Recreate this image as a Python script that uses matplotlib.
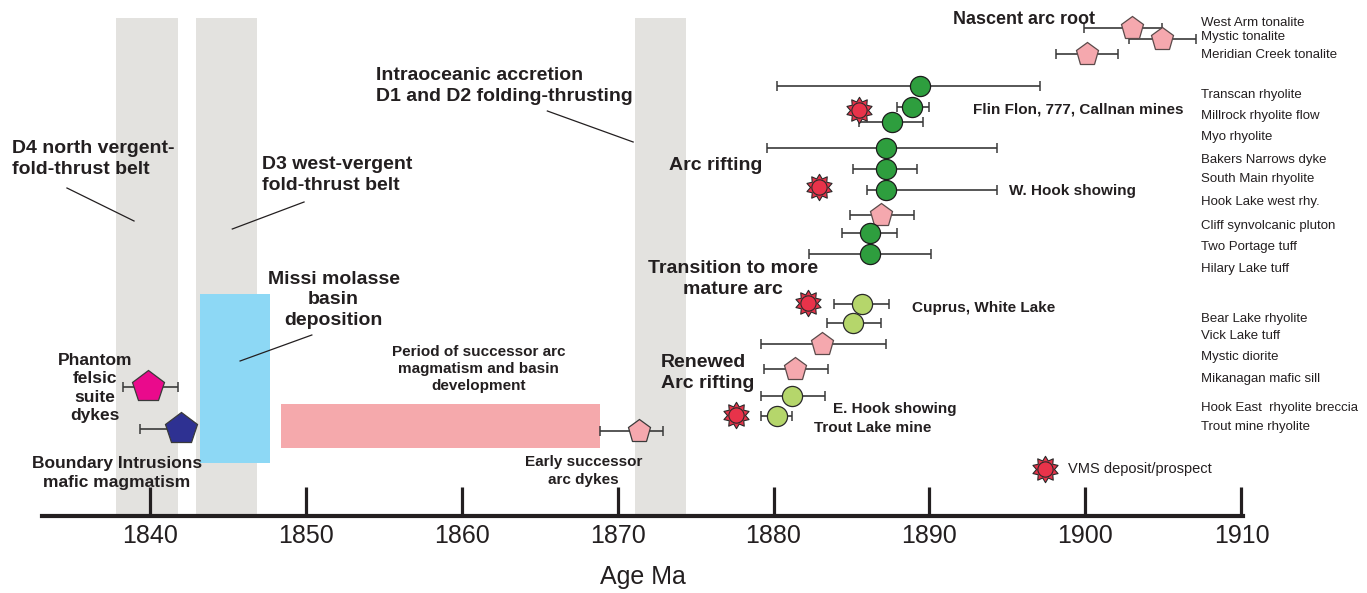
import matplotlib.pyplot as plt
from matplotlib.path import Path

plt.rcParams['font.family'] = ['Liberation Sans', 'DejaVu Sans']

ink = '#231f20'

# dated samples (Ma) with asymmetric uncertainties; row = vertical slot on the chart
names = ['West Arm tonalite', 'Mystic tonalite', 'Meridian Creek tonalite',
         'Transcan rhyolite', 'Millrock rhyolite flow', 'Myo rhyolite',
         'Bakers Narrows dyke', 'South Main rhyolite', 'Hook Lake west rhy.',
         'Cliff synvolcanic pluton', 'Two Portage tuff', 'Hilary Lake tuff',
         'Bear Lake rhyolite', 'Vick Lake tuff', 'Mystic diorite',
         'Mikanagan mafic sill', 'Hook East  rhyolite breccia', 'Trout mine rhyolite']
ages = [1903.0, 1904.9, 1900.1, 1889.4, 1888.9, 1887.6, 1887.2, 1887.2, 1887.2,
        1886.9, 1886.2, 1886.2, 1885.7, 1885.1, 1883.1, 1881.4, 1881.2, 1880.2]
err_minus = [3.1, 2.1, 2.0, 9.2, 1.0, 2.1, 7.6, 2.1, 1.2,
             2.0, 1.8, 3.9, 1.8, 1.7, 3.9, 2.0, 2.0, 1.0]
err_plus = [1.9, 2.2, 2.0, 7.7, 1.1, 2.0, 7.1, 2.0, 7.1,
            2.1, 1.7, 3.9, 1.7, 1.8, 4.1, 2.1, 2.1, 1.0]
rows = [28, 39, 54, 86, 107, 122, 148, 169, 190, 215, 233, 254,
        304, 323, 344, 369, 396, 416]
label_rows = [23, 37, 55, 95, 116, 137, 160, 179, 202, 226, 247, 269,
              319, 336, 357, 379, 408, 427]
kinds = ['pluton', 'pluton', 'pluton', 'volcanic', 'volcanic', 'volcanic',
         'volcanic', 'volcanic', 'volcanic', 'pluton', 'volcanic', 'volcanic',
         'late volcanic', 'late volcanic', 'pluton', 'pluton', 'late volcanic', 'late volcanic']

# older / successor suites on the left
suite_ages = [1839.9, 1842.0, 1871.4]
suite_minus = [1.6, 2.6, 2.5]
suite_plus = [1.9, 0.0, 1.5]
suite_rows = [387, 429, 431]

# VMS deposits / prospects
vms_ages = [1885.45, 1882.9, 1882.2, 1877.6]
vms_rows = [110, 187, 303, 415]

# deformation events (grey bands), Missi basin, successor arc period
deform_start = [1837.85, 1843.0, 1871.1]
deform_end = [1841.8, 1846.9, 1874.4]
missi = (1843.2, 1847.7)
successor = (1848.4, 1868.9)

ticks = [1840, 1850, 1860, 1870, 1880, 1890, 1900, 1910]

fig = plt.figure(figsize=(13.67, 5.93), dpi=100)
ax = fig.add_axes([42 / 1367, 77 / 593, 1201 / 1367, 516 / 593])
ax.set_xlim(1833.1, 1910.1)
ax.set_ylim(516, 0)

for s, e in zip(deform_start, deform_end):
    ax.bar(s, 496, width=e - s, bottom=18, align='edge', color='#e3e2df', zorder=0)
ax.bar(missi[0], 169, width=missi[1] - missi[0], bottom=294, align='edge',
       color='#8dd8f5', zorder=1)
ax.bar(successor[0], 44, width=successor[1] - successor[0], bottom=404, align='edge',
       color='#f5a9ac', zorder=1)

ebar = dict(fmt='none', ecolor='#3a3a3a', elinewidth=1.2, capsize=3.5, capthick=1.1, zorder=2)
ax.errorbar(ages, rows, xerr=[err_minus, err_plus], **ebar)
ax.errorbar(suite_ages, suite_rows, xerr=[suite_minus, suite_plus], **ebar)

style = {'pluton': dict(marker='p', ms=17, mfc='#f5a8ae', mec='#5a4a4a'),
         'volcanic': dict(marker='o', ms=14.5, mfc='#2e9e3e', mec='#1c1c1c'),
         'late volcanic': dict(marker='o', ms=14.5, mfc='#b5d66b', mec='#2a2a2a')}
for k, st in style.items():
    xs = [a for a, kk in zip(ages, kinds) if kk == k]
    ys = [r for r, kk in zip(rows, kinds) if kk == k]
    ax.plot(xs, ys, ls='none', mew=0.9, zorder=3, **st)

suite_styles = [dict(ms=24, mfc='#ea0a8c'), dict(ms=24, mfc='#2e3192'), dict(ms=17, mfc='#f5a8ae')]
for a, r, st in zip(suite_ages, suite_rows, suite_styles):
    ax.plot(a, r, marker='p', ls='none', mec='#3a3a3a', mew=0.9, zorder=3, **st)

star = Path.unit_regular_star(10, 0.68)


def vms(x, y):
    ax.plot(x, y, marker=star, ms=19, ls='none', mfc='#e8334a', mec='#2a2a2a', mew=0.8, zorder=4)
    ax.plot(x, y, marker='o', ms=11, ls='none', mfc='#e8334a', mec='#2a2a2a', mew=0.8, zorder=5)


vms(vms_ages, vms_rows)

for n, r in zip(names, label_rows):
    ax.text(1907.4, r, n, fontsize=9.5, color=ink, va='center', ha='left')

# legend
vms([1897.4], [469])
ax.text(1898.9, 469, 'VMS deposit/prospect', fontsize=10.5, color=ink, va='center')

big = dict(fontsize=14, fontweight='bold', color=ink, linespacing=1.28)
mid = dict(fontsize=11, fontweight='bold', color=ink, linespacing=1.3)

ax.text(1831.2, 159, 'D4 north vergent-\nfold-thrust belt', va='center', ha='left', **big)
ax.text(1847.2, 175, 'D3 west-vergent\nfold-thrust belt', va='center', ha='left', **big)
ax.text(1854.5, 86, 'Intraoceanic accretion\nD1 and D2 folding-thrusting', va='center', ha='left', **big)
ax.text(1851.8, 300, 'Missi molasse\nbasin\ndeposition', va='center', ha='center', **big)
ax.text(1836.5, 388, 'Phantom\nfelsic\nsuite\ndykes', va='center', ha='center',
        fontsize=12.5, fontweight='bold', color=ink, linespacing=1.3)
ax.text(1837.9, 473, 'Boundary Intrusions\nmafic magmatism', va='center', ha='center',
        fontsize=12.5, fontweight='bold', color=ink, linespacing=1.3)
ax.text(1861.1, 369, 'Period of successor arc\nmagmatism and basin\ndevelopment', va='center',
        ha='center', **mid)
ax.text(1867.8, 471, 'Early successor\narc dykes', va='center', ha='center', **mid)
ax.text(1891.5, 19, 'Nascent arc root', va='center', ha='left',
        fontsize=13, fontweight='bold', color=ink)
ax.text(1892.8, 109, 'Flin Flon, 777, Callnan mines', va='center', ha='left', **mid)
ax.text(1873.3, 165, 'Arc rifting', va='center', ha='left', **big)
ax.text(1895.1, 191, 'W. Hook showing', va='center', ha='left', **mid)
ax.text(1877.4, 279, 'Transition to more\nmature arc', va='center', ha='center', **big)
ax.text(1888.9, 308, 'Cuprus, White Lake', va='center', ha='left', **mid)
ax.text(1872.8, 373, 'Renewed\nArc rifting', va='center', ha='left', **big)
ax.text(1883.8, 409, 'E. Hook showing', va='center', ha='left', **mid)
ax.text(1882.6, 428, 'Trout Lake mine', va='center', ha='left', **mid)

# leader lines
lw = 0.9
ax.plot([1834.7, 1839.0], [188, 221], color=ink, lw=lw)
ax.plot([1849.9, 1845.3], [202, 229], color=ink, lw=lw)
ax.plot([1865.5, 1871.0], [111, 142], color=ink, lw=lw)
ax.plot([1850.4, 1845.8], [335, 361], color=ink, lw=lw)

for side in ['top', 'left', 'right']:
    ax.spines[side].set_visible(False)
ax.spines['bottom'].set_linewidth(3)
ax.spines['bottom'].set_color(ink)
ax.set_yticks([])
ax.set_xticks(ticks)
ax.tick_params(axis='x', direction='in', length=21, width=2.3, color=ink,
               labelsize=18, labelcolor=ink, pad=6)
ax.set_xlabel('Age Ma', fontsize=18, color=ink, labelpad=12)

fig.savefig('out.png', dpi=100)
